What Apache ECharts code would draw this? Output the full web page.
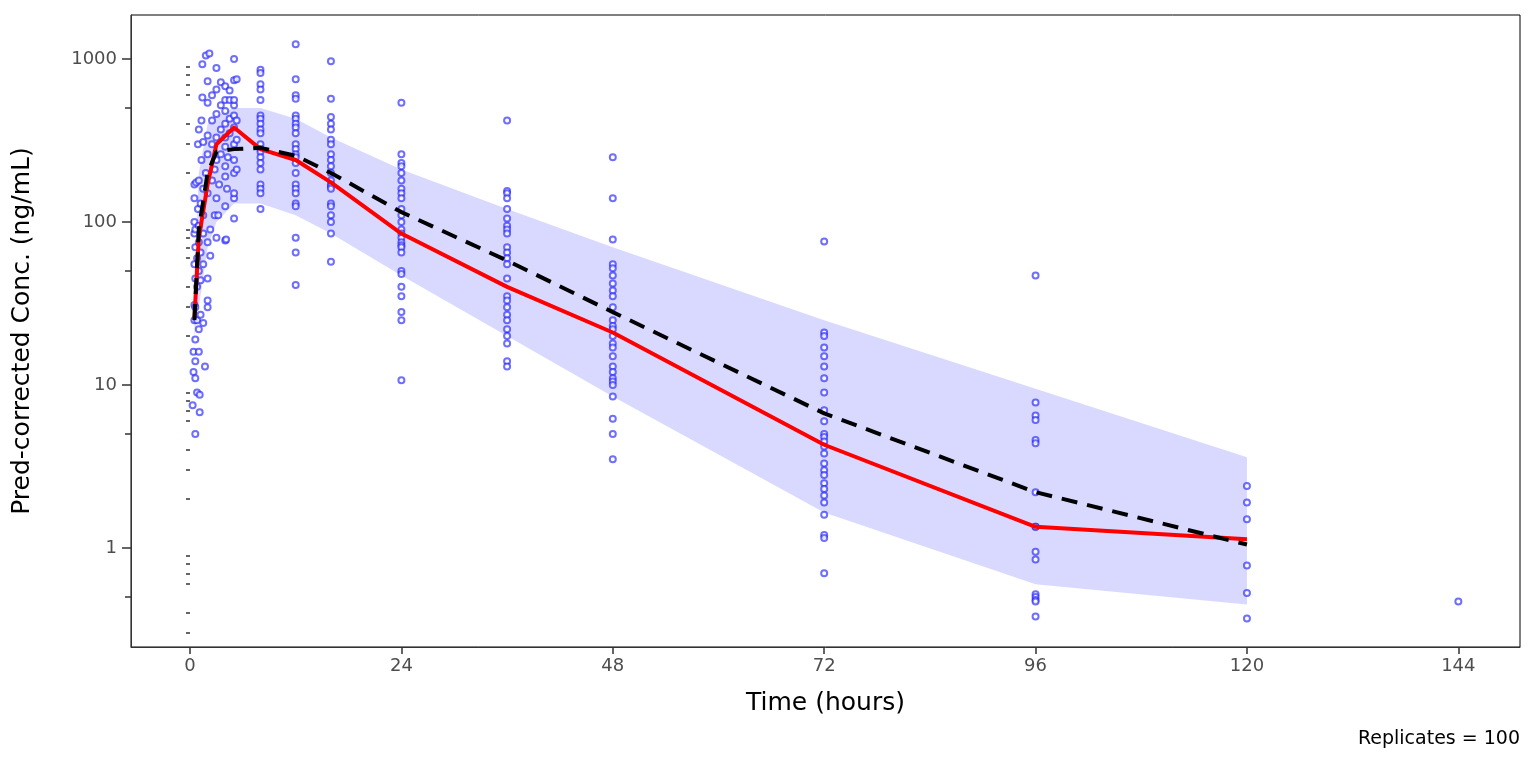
<!DOCTYPE html>
<html>
<head>
<meta charset="utf-8">
<script src="https://cdn.jsdelivr.net/npm/echarts@6/dist/echarts.min.js"></script>
<style>html,body{margin:0;padding:0;background:#fff}#c{width:1536px;height:768px}</style>
</head>
<body>
<div id="c"></div>
<script>
// observed points, grouped by nominal time
const early = [
  [0.3,7.5],[0.4,12],[0.4,16],[0.5,25],[0.5,31],[0.5,55],[0.5,85],[0.5,100],[0.5,140],[0.5,170],
  [0.6,5],[0.6,11],[0.6,14],[0.6,19],[0.6,30],[0.6,45],[0.6,70],[0.6,90],[0.7,175],[0.8,9],
  [0.8,25],[0.8,40],[0.8,60],[0.9,120],[0.9,300],[1.0,16],[1.0,22],[1.0,50],[1.0,75],[1.0,95],
  [1.0,180],[1.0,370],[1.1,6.8],[1.1,8.7],[1.2,27],[1.2,44],[1.2,65],[1.2,130],[1.3,240],[1.3,420],
  [1.4,580],[1.4,930],[1.5,24],[1.5,55],[1.5,85],[1.5,110],[1.5,160],[1.5,310],[1.7,13],[1.8,200],
  [1.8,1050],[2.0,30],[2.0,33],[2.0,45],[2.0,75],[2.0,150],[2.0,260],[2.0,340],[2.0,540],[2.0,730],
  [2.2,1080],[2.3,62],[2.3,90],[2.5,180],[2.5,300],[2.5,420],[2.5,600],[2.8,110],[2.8,210],[3.0,80],
  [3.0,140],[3.0,240],[3.0,330],[3.0,460],[3.0,650],[3.0,880],[3.2,110],[3.3,170],[3.5,260],[3.5,370],
  [3.5,520],[3.5,720],[4.0,77],[4.0,125],[4.0,190],[4.0,220],[4.0,290],[4.0,330],[4.0,400],[4.0,480],
  [4.0,560],[4.0,680],[4.1,78],[4.2,160],[4.3,250],[4.5,350],[4.5,430],[4.5,560],[4.5,640],[5.0,105],
  [5.0,140],[5.0,150],[5.0,200],[5.0,240],[5.0,300],[5.0,380],[5.0,450],[5.0,520],[5.0,560],[5.0,740],
  [5.0,1000],[5.3,210],[5.3,320],[5.3,420],[5.3,750]
];
const groups = {
  8: [860,820,700,650,560,450,430,400,370,350,300,280,270,250,230,210,170,160,150,120],
  12: [1230,750,600,570,450,430,400,380,350,300,280,260,250,230,200,170,160,150,130,125,80,65,41],
  16: [970,570,440,400,370,320,300,260,240,220,200,180,170,165,160,130,125,110,100,85,57],
  24: [540,260,230,220,200,180,160,150,140,120,110,100,90,85,80,75,72,70,65,50,48,40,35,28,25,10.7],
  36: [420,155,150,140,120,105,95,90,85,70,65,60,55,45,35,33,30,27,25,22,20,18,14,13],
  48: [250,140,78,55,52,47,42,38,35,30,25,23,22,20,18,17,15,13,12,11,10.5,10,8.5,6.2,5,3.5],
  72: [76,21,20,17,15,13,11,9,7,6,5,4.8,4.5,4.2,3.8,3.3,3,2.8,2.5,2.3,2.1,1.9,1.6,1.2,1.15,0.7],
  96: [47,7.8,6.5,6.1,4.6,4.4,2.2,1.35,1.35,0.95,0.85,0.52,0.5,0.48,0.47,0.38],
  120: [2.4,1.9,1.5,0.78,0.53,0.37],
  144: [0.47]
};
// summary curves
const binTimes   = [0.5, 1, 2, 3, 5, 8, 12, 16, 24, 36, 48, 72, 96, 120];
const obsMedian  = [26, 80, 170, 300, 380, 280, 240, 175, 85, 40, 21, 4.3, 1.35, 1.13];
const simMedian  = [25, 90, 200, 270, 280, 285, 255, 200, 115, 58, 28, 6.7, 2.2, 1.05];
const piUpper    = [40, 200, 400, 450, 500, 500, 430, 330, 210, 120, 70, 25, 9.5, 3.6];
const piLower    = [20, 30, 70, 100, 130, 130, 110, 85, 47, 20, 8.5, 1.65, 0.6, 0.45];
const xTicks = [0, 24, 48, 72, 96, 120, 144];
const yTicks = [1, 10, 100, 1000];
const yMinor = [], yMid = [];
[0.1, 1, 10, 100, 1000].forEach(d => { for (let k = 2; k <= 9; k++) { const v = +(k * d).toPrecision(2); if (v > 0.247 && v < 1862) (k === 5 ? yMid : yMinor).push(v); } });

const points = early.slice();
Object.keys(groups).forEach(t => groups[t].forEach(v => points.push([+t, v])));
const band = binTimes.map((t, i) => [t, piLower[i], piUpper[i]]);

const chart = echarts.init(document.getElementById('c'));
const yBase = { type: 'log', min: 0.247, max: 1862, splitLine: { show: false } };
const tickAxis = (vals, len) => Object.assign({}, yBase, {
  position: 'left', axisLine: { show: false },
  axisTick: { customValues: vals, length: len, lineStyle: { color: '#333', width: 1.5 } },
  axisLabel: { show: false }
});
chart.setOption({
  animation: false,
  grid: { left: 131, right: 16, top: 15, bottom: 121, show: true, borderColor: '#000', borderWidth: 1 },
  xAxis: {
    type: 'value', min: -6.7, max: 151,
    name: 'Time (hours)', nameLocation: 'middle', nameGap: 44,
    nameTextStyle: { fontSize: 25, color: '#000', fontFamily: 'DejaVu Sans' },
    axisLine: { onZero: false, lineStyle: { color: '#333' } },
    axisTick: { customValues: xTicks, length: 7, lineStyle: { color: '#333', width: 1.5 } },
    axisLabel: { customValues: xTicks, fontSize: 18, color: '#4d4d4d', margin: 10, fontFamily: 'DejaVu Sans' },
    splitLine: { show: false }
  },
  yAxis: [
    Object.assign({}, yBase, {
      name: 'Pred-corrected Conc. (ng/mL)', nameLocation: 'middle', nameGap: 96,
      nameTextStyle: { fontSize: 25, color: '#000', fontFamily: 'DejaVu Sans' },
      axisLine: { show: true, onZero: false, lineStyle: { color: '#333' } },
      axisTick: { customValues: yTicks, length: 9, lineStyle: { color: '#333', width: 1.5 } },
      axisLabel: { customValues: yTicks, formatter: v => String(v), fontSize: 18, color: '#4d4d4d', margin: 14, fontFamily: 'DejaVu Sans' }
    }),
    tickAxis(yMinor, 4),
    tickAxis(yMid, 6)
  ],
  series: [
    {
      type: 'custom', data: band, z: 1, silent: true,
      renderItem: function (params, api) {
        if (params.dataIndex !== 0) return;
        const up = band.map(d => api.coord([d[0], d[2]]));
        const lo = band.map(d => api.coord([d[0], d[1]])).reverse();
        return { type: 'polygon', shape: { points: up.concat(lo) }, style: { fill: 'rgba(170,170,255,0.45)' } };
      }
    },
    {
      type: 'scatter', data: points, z: 3, symbol: 'emptyCircle', symbolSize: 6,
      itemStyle: { color: 'rgba(30,30,255,0.8)', borderWidth: 1.5 }
    },
    {
      type: 'line', data: binTimes.map((t, i) => [t, obsMedian[i]]), z: 4, symbol: 'none',
      lineStyle: { color: '#ff0000', width: 4 }
    },
    {
      type: 'line', data: binTimes.map((t, i) => [t, simMedian[i]]), z: 5, symbol: 'none',
      lineStyle: { color: '#000', width: 4, type: [16, 10] }
    }
  ],
  graphic: [{
    type: 'text', right: 16, top: 730,
    style: { text: 'Replicates = 100', fontSize: 19, fill: '#000', fontFamily: 'DejaVu Sans' }
  }]
});
</script>
</body>
</html>
